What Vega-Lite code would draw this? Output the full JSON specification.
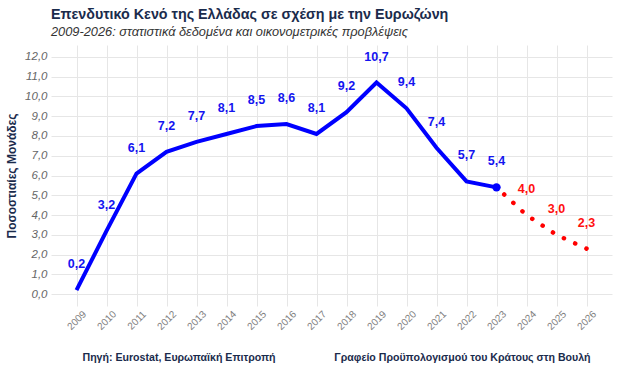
{
  "$schema": "https://vega.github.io/schema/vega-lite/v6.json",
  "autosize": {"type": "none"},
  "width": 561,
  "height": 261,
  "padding": {"left": 51, "top": 45, "right": 12, "bottom": 86},
  "background": "white",
  "config": {
    "view": {"stroke": null},
    "font": "Liberation Sans",
    "locale": {"number": {"decimal": ",", "thousands": ".", "grouping": [3], "currency": ["", " €"]}}
  },
  "title": {
    "text": "Επενδυτικό Κενό της Ελλάδας σε σχέση με την Ευρωζώνη",
    "subtitle": "2009-2026: στατιστικά δεδομένα και οικονομετρικές προβλέψεις",
    "anchor": "start",
    "frame": "group",
    "font": "Liberation Sans",
    "fontSize": 14.3,
    "fontWeight": "bold",
    "color": "#1a2b4c",
    "subtitleFont": "Liberation Sans",
    "subtitleFontSize": 12.8,
    "subtitleFontStyle": "italic",
    "subtitleColor": "#333333",
    "subtitlePadding": 4,
    "offset": 6
  },
  "data": {
    "values": [
      {"year": "2009", "value": 0.2, "type": "actual"},
      {"year": "2010", "value": 3.2, "type": "actual"},
      {"year": "2011", "value": 6.1, "type": "actual"},
      {"year": "2012", "value": 7.2, "type": "actual"},
      {"year": "2013", "value": 7.7, "type": "actual"},
      {"year": "2014", "value": 8.1, "type": "actual"},
      {"year": "2015", "value": 8.5, "type": "actual"},
      {"year": "2016", "value": 8.6, "type": "actual"},
      {"year": "2017", "value": 8.1, "type": "actual"},
      {"year": "2018", "value": 9.2, "type": "actual"},
      {"year": "2019", "value": 10.7, "type": "actual"},
      {"year": "2020", "value": 9.4, "type": "actual"},
      {"year": "2021", "value": 7.4, "type": "actual"},
      {"year": "2022", "value": 5.7, "type": "actual"},
      {"year": "2023", "value": 5.4, "type": "actual"},
      {"year": "2024", "value": 4.0, "type": "forecast"},
      {"year": "2025", "value": 3.0, "type": "forecast"},
      {"year": "2026", "value": 2.3, "type": "forecast"}
    ]
  },
  "encoding": {
    "x": {
      "field": "year",
      "type": "ordinal",
      "scale": {"type": "point", "padding": 0.85},
      "axis": {
        "title": "Πηγή: Eurostat, Ευρωπαϊκή Επιτροπή\u00a0\u00a0\u00a0\u00a0\u00a0\u00a0\u00a0\u00a0\u00a0\u00a0\u00a0\u00a0\u00a0\u00a0\u00a0\u00a0\u00a0\u00a0\u00a0\u00a0Γραφείο Προϋπολογισμού του Κράτους στη Βουλή",
        "titleAnchor": "start",
        "titleAlign": "left",
        "titleX": 31,
        "titleY": 51,
        "titleBaseline": "middle",
        "titleFont": "Liberation Sans",
        "titleFontSize": 10.6,
        "titleFontWeight": "bold",
        "titleColor": "#1a2b4c",
        "labelAngle": -45,
        "labelAlign": "center",
        "labelBaseline": "middle",
        "labelPadding": 14,
        "labelColor": "#808080",
        "labelFontSize": 10,
        "ticks": false,
        "domain": false,
        "grid": true,
        "gridColor": "#e6e6e6",
        "gridWidth": 1
      }
    },
    "y": {
      "field": "value",
      "type": "quantitative",
      "scale": {"domain": [-0.6, 12.6], "nice": false, "zero": false},
      "axis": {
        "title": "Ποσοστιαίες Μονάδες",
        "titleFont": "Liberation Sans",
        "titleFontSize": 12,
        "titleFontWeight": "bold",
        "titleColor": "#1a2b4c",
        "titlePadding": 6,
        "values": [0, 1, 2, 3, 4, 5, 6, 7, 8, 9, 10, 11, 12],
        "format": ".1f",
        "labelFontStyle": "italic",
        "labelColor": "#666666",
        "labelFontSize": 11.5,
        "labelPadding": 4,
        "ticks": false,
        "domain": false,
        "grid": true,
        "gridColor": "#e6e6e6",
        "gridWidth": 1
      }
    }
  },
  "layer": [
    {
      "transform": [{"filter": "datum.type == 'actual'"}],
      "mark": {"type": "line", "color": "#0000ff", "strokeWidth": 4, "strokeJoin": "miter"}
    },
    {
      "transform": [{"filter": "toNumber(datum.year) >= 2023"}],
      "mark": {"type": "line", "color": "#ff0000", "strokeWidth": 4.5, "strokeDash": [0.1, 12.3], "strokeCap": "round"},
      "encoding": {"order": {"field": "year", "sort": "descending"}}
    },
    {
      "transform": [{"filter": "datum.year == '2023'"}],
      "mark": {"type": "point", "filled": true, "color": "#0000ff", "size": 70, "opacity": 1}
    },
    {
      "mark": {"type": "text", "dy": -26, "fontSize": 12.5, "fontWeight": "bold", "font": "Liberation Sans"},
      "encoding": {
        "text": {"field": "value", "type": "quantitative", "format": ".1f"},
        "color": {
          "field": "type",
          "type": "nominal",
          "scale": {"domain": ["actual", "forecast"], "range": ["#1414f0", "#ff1010"]},
          "legend": null
        }
      }
    }
  ]
}
